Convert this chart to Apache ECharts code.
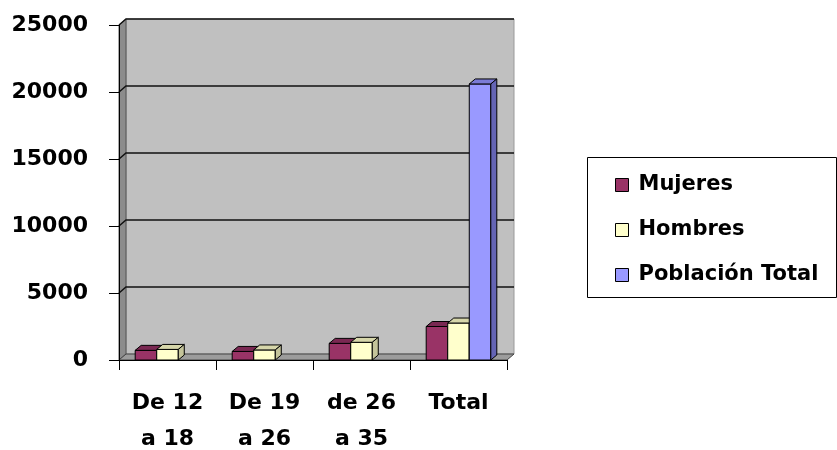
<!DOCTYPE html>
<html>
<head>
<meta charset="utf-8">
<script src="https://cdn.jsdelivr.net/npm/echarts@6/dist/echarts.min.js"></script>
<style>html,body{margin:0;padding:0;background:#fff;}#c{width:837px;height:450px;}</style>
</head>
<body>
<div id="c"></div>
<script>
// ---- data ----
const categories = ['De 12\na 18', 'De 19\na 26', 'de 26\na 35', 'Total'];
const mujeres = [720, 640, 1240, 2500];
const hombres = [790, 750, 1320, 2760];
const poblacionTotal = [null, null, null, 20600];
const seriesNames = ['Mujeres', 'Hombres', 'Población Total'];
const yTicks = [0, 5000, 10000, 15000, 20000, 25000];

// ---- styles ----
const FRONT = ['#993366', '#ffffcc', '#9999ff'];
const TOP = ['#7a2852', '#d6d6aa', '#7b7bd6'];
const SIDE = ['#6e2249', '#c4c49a', '#6464b4'];
const FONT = 'DejaVu Sans';
const BAR_FRAC = 0.222;
const BDX = 6, BDY = -5;   // bar depth offset
const WDX = 7, WDY = -6;   // wall depth offset

function pairs(arr) {
  const out = [];
  arr.forEach((v, i) => { if (v != null) out.push([i, v]); });
  return out;
}

function barRenderer(k) {
  return function (params, api) {
    const cat = api.value(0), v = api.value(1);
    if (isNaN(v)) return null;
    const bandW = api.size([1, 0])[0];
    const bw = bandW * BAR_FRAC;
    const base = api.coord([cat, 0]);
    const top = api.coord([cat, v]);
    const x0 = base[0] - 1.5 * bw + k * bw;
    const ty = top[1], by = base[1];
    const st = { stroke: '#000', lineWidth: 1 };
    return {
      type: 'group',
      children: [
        { type: 'rect', shape: { x: x0, y: ty, width: bw, height: by - ty },
          style: Object.assign({ fill: FRONT[k] }, st) },
        { type: 'polygon', shape: { points: [[x0, ty], [x0 + BDX, ty + BDY], [x0 + bw + BDX, ty + BDY], [x0 + bw, ty]] },
          style: Object.assign({ fill: TOP[k] }, st) },
        { type: 'polygon', shape: { points: [[x0 + bw, ty], [x0 + bw + BDX, ty + BDY], [x0 + bw + BDX, by + BDY], [x0 + bw, by]] },
          style: Object.assign({ fill: SIDE[k] }, st) }
      ]
    };
  };
}

function wallRenderer(params, api) {
  const cs = params.coordSys;
  const L = cs.x, R = cs.x + cs.width, T = cs.y, B = cs.y + cs.height;
  const children = [
    { type: 'rect', shape: { x: L + WDX, y: T + WDY, width: R - L, height: B - T },
      style: { fill: '#c0c0c0', stroke: '#9a9a9a', lineWidth: 1 } },
    { type: 'polygon', shape: { points: [[L, T], [L + WDX, T + WDY], [L + WDX, B + WDY], [L, B]] },
      style: { fill: '#8c8c8c', stroke: '#555', lineWidth: 1 } },
    { type: 'polygon', shape: { points: [[L, B], [L + WDX, B + WDY], [R + WDX, B + WDY], [R, B]] },
      style: { fill: '#9c9c9c', stroke: '#444', lineWidth: 1 } }
  ];
  yTicks.forEach(v => {
    const y = api.coord([0, v])[1];
    if (v === 0) return;
    children.push({ type: 'polyline', shape: { points: [[L, y], [L + WDX, y + WDY], [R + WDX, y + WDY]] },
      style: { stroke: '#111', lineWidth: 1.5, fill: null } });
  });
  return { type: 'group', children };
}

const chart = echarts.init(document.getElementById('c'));
chart.setOption({
  animation: false,
  backgroundColor: '#fff',
  grid: { left: 119, right: 330, top: 25, bottom: 90, containLabel: false, outerBoundsMode: 'none' },
  xAxis: {
    type: 'category',
    data: categories,
    boundaryGap: true,
    axisLine: { show: true, lineStyle: { color: '#000', width: 1 } },
    axisTick: { show: true, length: 10, alignWithLabel: false, lineStyle: { color: '#000' } },
    axisLabel: { color: '#000', fontFamily: FONT, fontWeight: 'bold', fontSize: 22, lineHeight: 36, margin: 25 },
    splitLine: { show: false }
  },
  yAxis: {
    type: 'value',
    min: 0, max: 25000, interval: 5000,
    axisLine: { show: true, lineStyle: { color: '#000', width: 1 } },
    axisTick: { show: true, length: 10, inside: false, lineStyle: { color: '#000' } },
    axisLabel: { color: '#000', fontFamily: FONT, fontWeight: 'bold', fontSize: 22, margin: 31,
      formatter: v => String(v) },
    splitLine: { show: false }
  },
  legend: {
    orient: 'vertical',
    left: 610, top: 169,
    itemWidth: 13, itemHeight: 13, itemGap: 23,
    icon: 'rect',
    itemStyle: { borderColor: '#000', borderWidth: 1 },
    textStyle: { color: '#000', fontFamily: FONT, fontWeight: 'bold', fontSize: 21, lineHeight: 22, padding: [0, 0, 0, 5] },
    data: seriesNames
  },
  graphic: [
    { type: 'rect', shape: { x: 587.5, y: 157.5, width: 249, height: 140 },
      style: { fill: 'none', stroke: '#000', lineWidth: 1 }, z: 100 }
  ],
  series: [
    { type: 'custom', name: '_wall', z: -1, silent: true, renderItem: wallRenderer, data: [[0, 0]], encode: { x: 0, y: 1 } },
    { type: 'custom', name: seriesNames[0], renderItem: barRenderer(0), itemStyle: { color: FRONT[0] }, data: pairs(mujeres), encode: { x: 0, y: 1 } },
    { type: 'custom', name: seriesNames[1], renderItem: barRenderer(1), itemStyle: { color: FRONT[1] }, data: pairs(hombres), encode: { x: 0, y: 1 } },
    { type: 'custom', name: seriesNames[2], renderItem: barRenderer(2), itemStyle: { color: FRONT[2] }, data: pairs(poblacionTotal), encode: { x: 0, y: 1 } }
  ]
});
</script>
</body>
</html>
